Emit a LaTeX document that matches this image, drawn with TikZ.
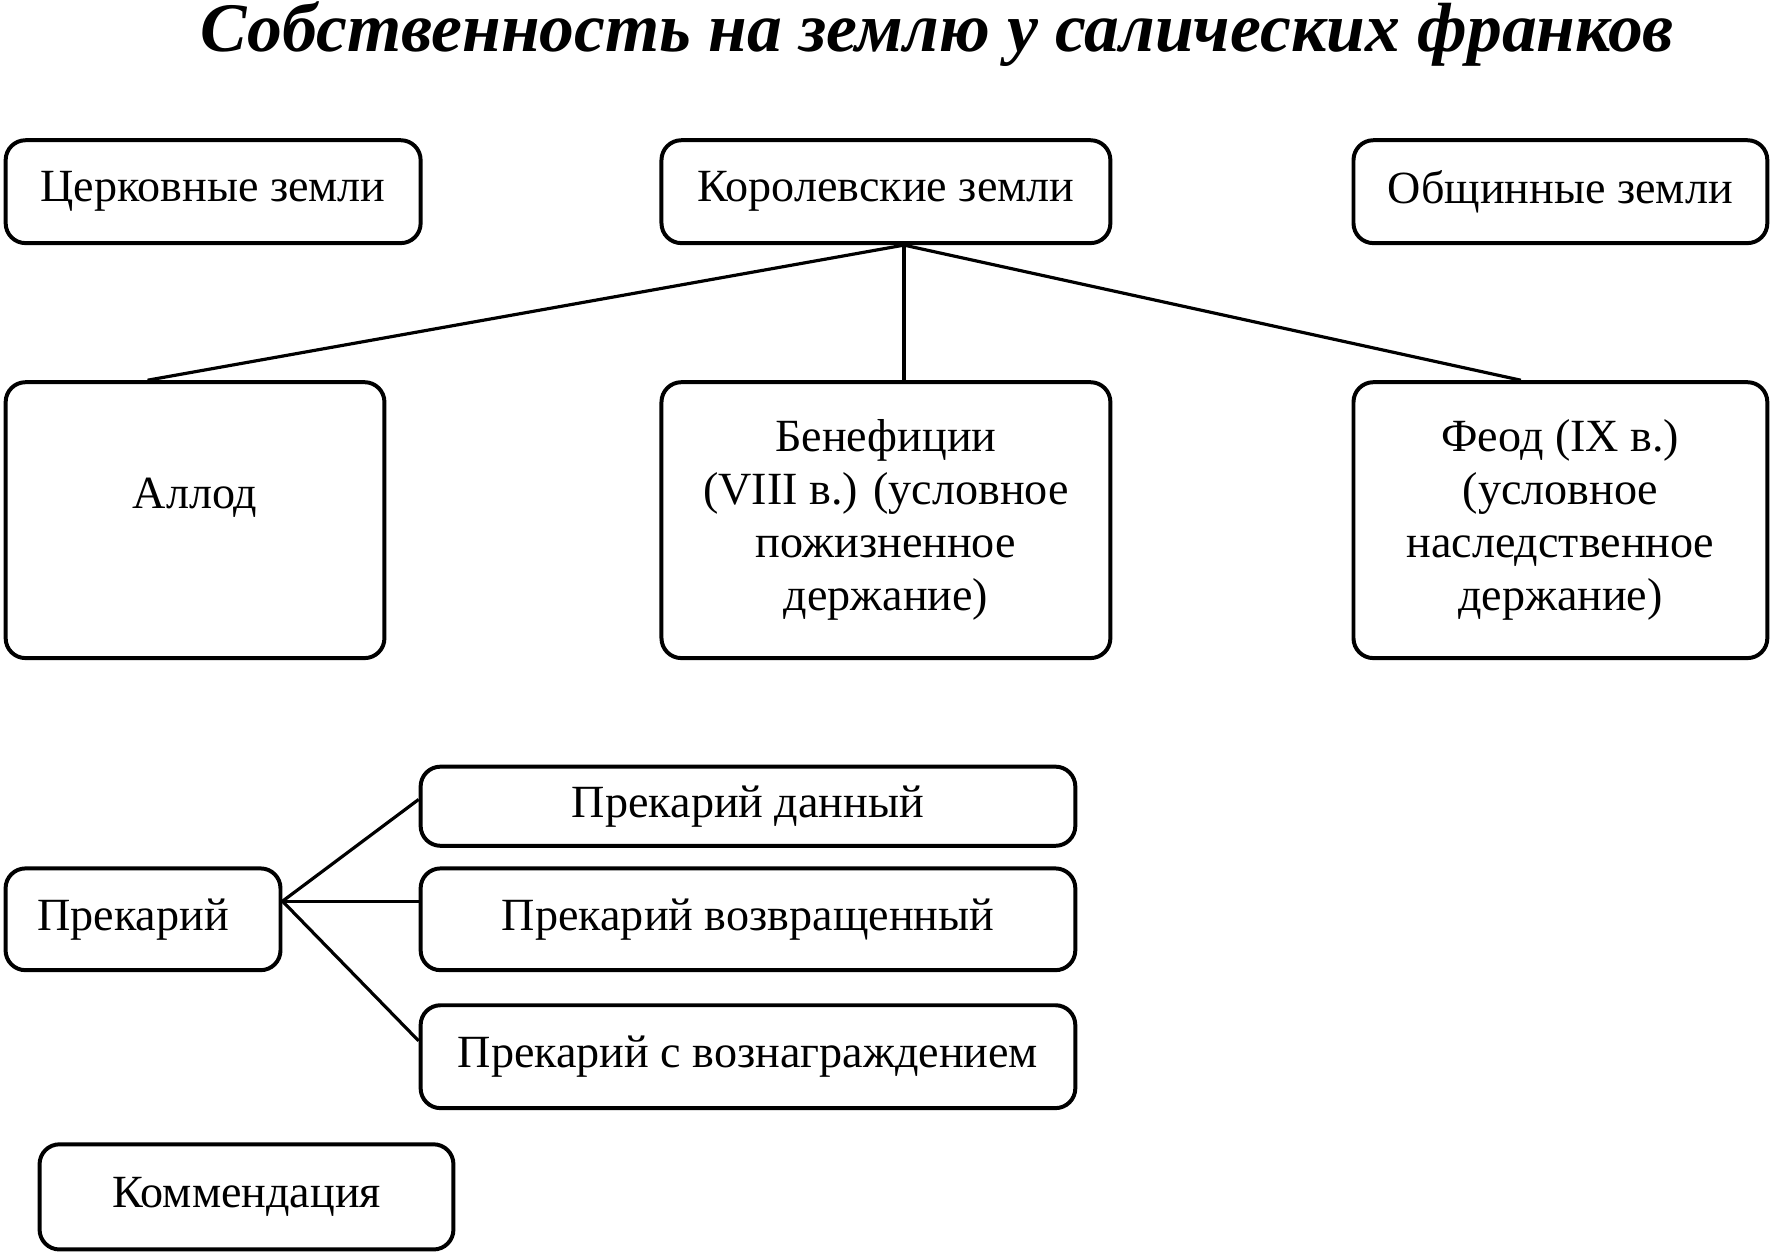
\documentclass[tikz,border=0pt]{standalone}
\usepackage{fontspec}
\setmainfont{Liberation Serif}
\usetikzlibrary{calc,positioning}
\tikzset{
  landbox/.style 2 args={draw, rounded corners=5pt, line width=1pt, align=center,
    inner sep=0pt, minimum width=#1*0.01cm, minimum height=#2*0.01cm,
    font=\fontsize{11.6}{13.3}\selectfont},
  tie/.style={line width=0.8pt}
}
\begin{document}
\begin{tikzpicture}[x=0.01cm,y=-0.01cm]
\useasboundingbox (0,0) rectangle (1568,1108);
\node[font=\fontsize{17.5}{20}\bfseries\itshape] (title) at (829,30) {Собственность на землю у салических франков};
% first row
\node[landbox={367}{91}] (church) at (188.5,169.5) {Церковные земли};
\node[landbox={397}{91}] (royal) at (783.5,169.5) {Королевские земли};
\node[landbox={366}{91}] (common) at (1380,169.5) {Общинные земли};
% second row
\node[landbox={335}{244}] (allod) at (172.5,460) {Аллод\\ \mbox{}};
\node[landbox={397}{244}] (benefice) at (783.5,460) {Бенефиции\\(VIII в.) (условное\\пожизненное\\держание)};
\node[landbox={366}{244}] (feud) at (1380,460) {Феод (IX в.)\\(условное\\наследственное\\держание)};
% precaria
\node[landbox={243}{90}, inner xsep=0.28cm, text width=1.87cm, align=left] (precaria) at (126.5,813) {Прекарий};
\node[landbox={579}{70}] (given) at (661.5,713) {Прекарий данный};
\node[landbox={579}{90}] (returned) at (661.5,813) {Прекарий возвращенный};
\node[landbox={579}{91}] (rewarded) at (661.5,934.5) {Прекарий с вознаграждением};
\node[landbox={366}{93}] (commend) at (218,1058.5) {Коммендация};
% connectors
\coordinate (hub) at ($(royal.south)+(16,0)$);
\draw[tie] (hub) -- ($(allod.north)+(-42,0)$);
\draw[tie] (hub) -- (hub |- benefice.north);
\draw[tie] (hub) -- ($(feud.north)+(-35,0)$);
\coordinate (fork) at ($(precaria.east)+(0,-16)$);
\draw[tie] (fork) -- ($(given.west)+(0,-6)$);
\draw[tie] (fork) -- (fork -| returned.west);
\draw[tie] (fork) -- ($(rewarded.west)+(0,-14)$);
\end{tikzpicture}
\end{document}
